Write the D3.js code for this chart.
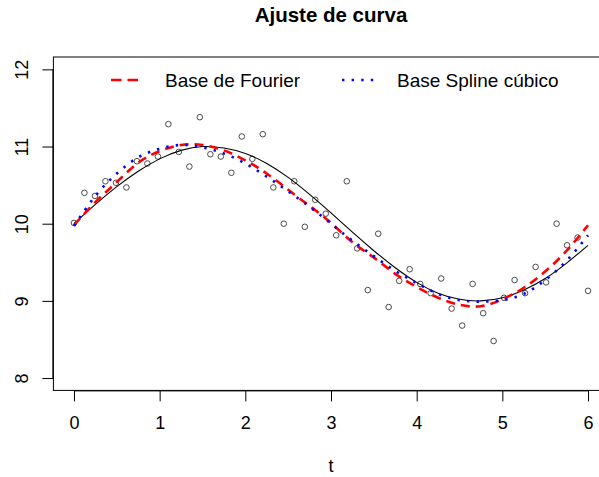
<!DOCTYPE html>
<html>
<head>
<meta charset="utf-8">
<script src="https://cdn.jsdelivr.net/npm/d3@7/dist/d3.min.js"></script>
<style>
  html, body { margin: 0; padding: 0; background: #fff; }
  svg { display: block; font-family: "Liberation Sans", Arial, Helvetica, sans-serif; }
</style>
</head>
<body>
<svg id="chart" width="599" height="477"></svg>
<script>
// Observed samples
const tObs = [0, 0.122, 0.245, 0.367, 0.49, 0.612, 0.735, 0.857, 0.98, 1.102,
  1.224, 1.347, 1.469, 1.592, 1.714, 1.837, 1.959, 2.082, 2.204, 2.327,
  2.449, 2.571, 2.694, 2.816, 2.939, 3.061, 3.184, 3.306, 3.429, 3.551,
  3.673, 3.796, 3.918, 4.041, 4.163, 4.286, 4.408, 4.531, 4.653, 4.776,
  4.898, 5.02, 5.143, 5.265, 5.388, 5.51, 5.633, 5.755, 5.878, 6];
const yObs = [10.01, 10.40, 10.36, 10.55, 10.53, 10.47, 10.81, 10.78, 10.87, 11.29,
  10.93, 10.74, 11.38, 10.90, 10.87, 10.66, 11.13, 10.84, 11.16, 10.47,
  10.00, 10.55, 9.96, 10.31, 10.13, 9.85, 10.55, 9.68, 9.14, 9.87,
  8.92, 9.26, 9.41, 9.22, 9.10, 9.29, 8.90, 8.68, 9.22, 8.84,
  8.48, 9.04, 9.27, 9.10, 9.44, 9.24, 10.00, 9.72, 9.82, 9.13];

// Curve evaluation grid and curves
const tGrid = [0, 0.25, 0.5, 0.75, 1, 1.25, 1.5, 1.75, 2, 2.25, 2.5, 2.75, 3,
  3.25, 3.5, 3.75, 4, 4.25, 4.5, 4.75, 5, 5.25, 5.5, 5.75, 6];
const trueCurve = [10.00, 10.25, 10.48, 10.68, 10.84, 10.95, 11.00, 10.98, 10.91,
  10.78, 10.60, 10.38, 10.14, 9.89, 9.65, 9.43, 9.24, 9.10, 9.02, 9.00,
  9.04, 9.14, 9.29, 9.49, 9.72];
const fourierFit = [9.98, 10.28, 10.54, 10.79, 10.94, 11.02, 11.02, 10.95, 10.82,
  10.65, 10.44, 10.23, 10.01, 9.76, 9.56, 9.35, 9.18, 9.04, 8.95, 8.93,
  9.02, 9.17, 9.38, 9.65, 9.98];
const splineFit = [9.97, 10.36, 10.65, 10.86, 10.97, 11.02, 10.99, 10.91, 10.78,
  10.61, 10.42, 10.22, 10.00, 9.78, 9.58, 9.39, 9.23, 9.09, 9.01, 8.99,
  9.01, 9.09, 9.27, 9.52, 9.85];

const xTicks = [0, 1, 2, 3, 4, 5, 6];
const yTicks = [8, 9, 10, 11, 12];
const legendLabels = ["Base de Fourier", "Base Spline cúbico"];

const svg = d3.select("#chart");
const plot = { left: 53.4, right: 608.6, top: 57, bottom: 390.4 };

const x = d3.scaleLinear().domain([-0.24, 6.24]).range([plot.left, plot.right]);
const y = d3.scaleLinear().domain([7.84, 12.16]).range([plot.bottom, plot.top]);

// Title
svg.append("text")
  .attr("x", (plot.left + plot.right) / 2).attr("y", 22)
  .attr("text-anchor", "middle")
  .attr("font-weight", "bold").attr("font-size", 20.5)
  .text("Ajuste de curva");

// Axes
const xAxis = svg.append("g")
  .attr("transform", `translate(0,${plot.bottom})`)
  .call(d3.axisBottom(x).tickValues(xTicks).tickSize(11).tickPadding(27).tickFormat(d3.format("d")));
xAxis.select(".domain").attr("d", `M${x(0)},0.5H${x(6)}`).attr("stroke", "#000");
xAxis.selectAll(".tick line").attr("stroke", "#000");
xAxis.selectAll(".tick text").attr("font-size", 18).attr("fill", "#000")
  .attr("dy", 0).attr("y", 39);

const yAxis = svg.append("g")
  .attr("transform", `translate(${plot.left},0)`)
  .call(d3.axisLeft(y).tickValues(yTicks).tickSize(11).tickFormat(d3.format("d")));
yAxis.select(".domain").attr("d", `M-0.5,${y(8)}V${y(12)}`).attr("stroke", "#000");
yAxis.selectAll(".tick line").attr("stroke", "#000");
yAxis.selectAll(".tick text")
  .attr("font-size", 18).attr("fill", "#000")
  .attr("x", null).attr("dy", null)
  .attr("text-anchor", "middle")
  .attr("transform", "translate(-25,0) rotate(-90)")
  .attr("y", 0);

// Plot frame
svg.append("rect")
  .attr("x", plot.left).attr("y", plot.top)
  .attr("width", plot.right - plot.left).attr("height", plot.bottom - plot.top)
  .attr("fill", "none").attr("stroke", "#000").attr("stroke-width", 1);

// Observations
svg.append("g").selectAll("circle")
  .data(tObs.map((t, i) => [t, yObs[i]]))
  .join("circle")
  .attr("cx", d => x(d[0])).attr("cy", d => y(d[1]))
  .attr("r", 2.8)
  .attr("fill", "none").attr("stroke", "#4a4a4a").attr("stroke-width", 1);

const line = d3.line().x(d => x(d[0])).y(d => y(d[1])).curve(d3.curveNatural);
const pairs = vals => tGrid.map((t, i) => [t, vals[i]]);

svg.append("path").attr("d", line(pairs(trueCurve)))
  .attr("fill", "none").attr("stroke", "#000").attr("stroke-width", 1.1);
svg.append("path").attr("d", line(pairs(fourierFit)))
  .attr("fill", "none").attr("stroke", "#ff0000").attr("stroke-width", 2.6)
  .attr("stroke-dasharray", "9,6");
svg.append("path").attr("d", line(pairs(splineFit)))
  .attr("fill", "none").attr("stroke", "#0000ff").attr("stroke-width", 2.6)
  .attr("stroke-dasharray", "2.4,7.2");

// Legend
const legendY = 80;
const legend = svg.append("g");
legend.append("line").attr("x1", 111).attr("x2", 138).attr("y1", legendY).attr("y2", legendY)
  .attr("stroke", "#ff0000").attr("stroke-width", 2.6).attr("stroke-dasharray", "10.5,6");
legend.append("text").attr("x", 165).attr("y", legendY + 6.5)
  .attr("font-size", 19).text(legendLabels[0]);
legend.append("line").attr("x1", 342).attr("x2", 374).attr("y1", legendY).attr("y2", legendY)
  .attr("stroke", "#0000ff").attr("stroke-width", 2.6).attr("stroke-dasharray", "2.4,7.2");
legend.append("text").attr("x", 397).attr("y", legendY + 6.5)
  .attr("font-size", 19).text(legendLabels[1]);

// Axis title
svg.append("text")
  .attr("x", (plot.left + plot.right) / 2).attr("y", 472)
  .attr("text-anchor", "middle").attr("font-size", 18)
  .text("t");
</script>
</body>
</html>
